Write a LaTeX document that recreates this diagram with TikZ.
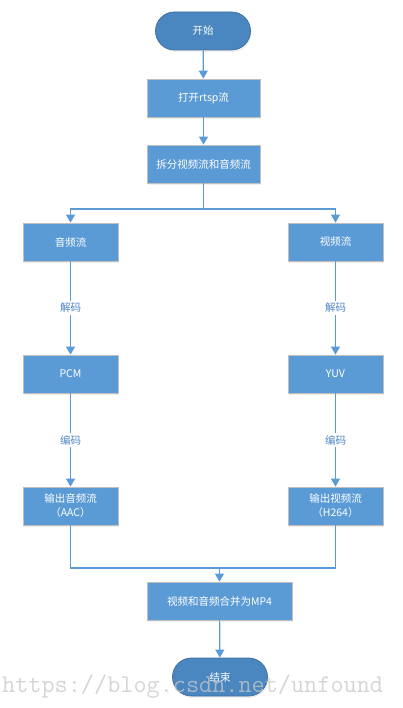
\documentclass[tikz,border=0pt]{standalone}
\usepackage{fontspec}
\newfontfamily\cjk{Noto Sans CJK SC}
\usetikzlibrary{arrows.meta,shadows}
\definecolor{boxblue}{HTML}{5B9BD5}
\definecolor{termblue}{HTML}{4A86C0}
\definecolor{termedge}{HTML}{41719C}
\definecolor{boxedge}{HTML}{BFBFBF}
\definecolor{labelblue}{HTML}{4F86C6}
\begin{document}
\begin{tikzpicture}[x=1pt,y=-1pt,
  procbox/.style={draw=boxedge,line width=0.8pt,fill=boxblue,text=white,
    minimum width=95pt,minimum height=38pt,inner sep=0pt,align=center,
    font=\cjk\fontsize{10.5}{14}\selectfont,
    drop shadow={opacity=0.12,shadow xshift=1pt,shadow yshift=-2pt}},
  termbox/.style={draw=termedge,line width=0.8pt,fill=termblue,text=white,
    rounded corners=19pt,minimum width=95pt,minimum height=38pt,inner sep=0pt,
    font=\cjk\fontsize{10.5}{14}\selectfont,
    drop shadow={opacity=0.12,shadow xshift=1pt,shadow yshift=-2pt}},
  conn/.style={draw=boxblue,line width=1.2pt},
  arr/.style={conn,-{Triangle[width=9pt,length=8pt]}},
  edgelabel/.style={fill=white,text=labelblue,inner sep=2pt,
    font=\cjk\fontsize{10.5}{12}\selectfont}
]
\useasboundingbox (0,0) rectangle (403,708);
\node[termbox] (start) at (203,31) {开始};
\node[procbox,minimum width=113pt] (open) at (203.5,98) {打开rtsp流};
\node[procbox,minimum width=113pt] (split) at (203.5,164) {拆分视频流和音频流};
\node[procbox] (audio) at (70.5,242) {音频流};
\node[procbox] (video) at (335.5,242) {视频流};
\node[procbox] (pcm) at (70.5,374) {PCM};
\node[procbox] (yuv) at (335.5,374) {YUV};
\node[procbox] (aac) at (70.5,506) {输出音频流\\（AAC）};
\node[procbox] (h264) at (335.5,506) {输出视频流\\（H264）};
\node[procbox,minimum width=145pt] (merge) at (219.5,601) {视频和音频合并为MP4};
\node[termbox] (end) at (220,677) {结束};

\coordinate (sj) at (203.5,209);
\coordinate (mj) at (219.5,568);

\draw[arr] (start) -- (open);
\draw[arr] (open) -- (split);
\draw[conn] (split.south) -- (sj);
\draw[arr] (sj) -| (audio.north);
\draw[arr] (sj) -| (video.north);
\draw[arr] (audio) -- node[edgelabel,pos=0.5] (l1) {解码} (pcm);
\draw[arr] (video) -- node[edgelabel,pos=0.5] (l2) {解码} (yuv);
\draw[arr] (pcm) -- node[edgelabel,pos=0.5] (l3) {编码} (aac);
\draw[arr] (yuv) -- node[edgelabel,pos=0.5] (l4) {编码} (h264);
\draw[conn] (aac.south) |- (mj);
\draw[conn] (h264.south) |- (mj);
\draw[arr] (mj) -- (merge.north);
\draw[arr] (merge) -- (end);

\node[font=\ttfamily\fontsize{25.5}{27}\selectfont,text=black!22,opacity=0.75,anchor=base west,inner sep=0pt] (wm) at (2,692) {https://blog.csdn.net/unfound};
\end{tikzpicture}
\end{document}
